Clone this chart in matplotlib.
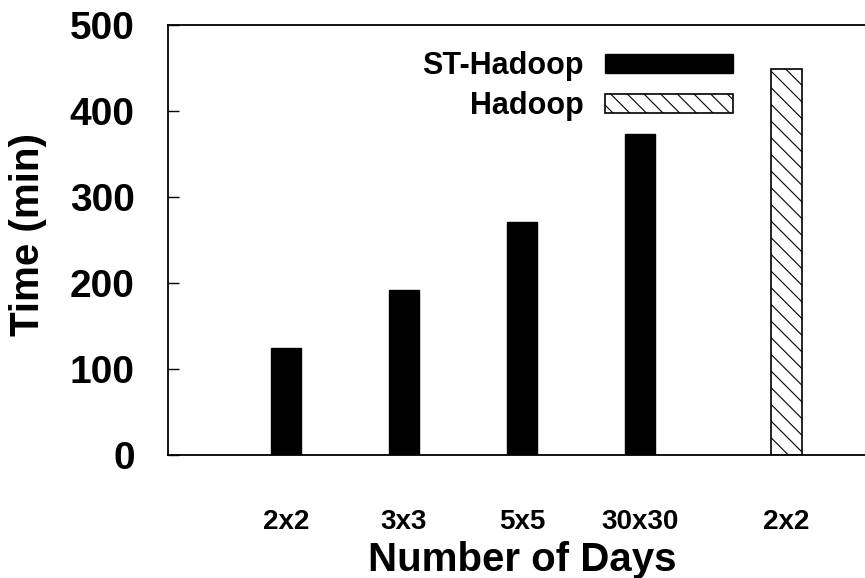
import matplotlib
matplotlib.use("Agg")
import matplotlib.pyplot as plt

plt.rcParams["font.family"] = ["Liberation Sans", "DejaVu Sans"]
plt.rcParams["font.weight"] = "bold"
plt.rcParams["hatch.linewidth"] = 0.8

# data
st_labels = ["2x2", "3x3", "5x5", "30x30"]
st_times = [124, 192, 271, 373]
hadoop_labels = ["2x2"]
hadoop_times = [449]

st_pos = [1, 2, 3, 4]
hadoop_pos = [5.24]
BAR_W = 0.26


def main():
    fig = plt.figure(figsize=(8.65, 5.78), dpi=100)
    ax = fig.add_axes([168 / 865, 123 / 578, 697 / 865, 430 / 578])

    ax.bar(st_pos, st_times, width=BAR_W, color="black", edgecolor="black",
           linewidth=1.0, label="ST-Hadoop")
    ax.bar(hadoop_pos, hadoop_times, width=BAR_W, color="white",
           edgecolor="black", hatch="\\\\", linewidth=1.2, label="Hadoop")

    ax.set_xlim(0, 697 / 118)
    ax.set_ylim(0, 500)
    ax.set_yticks([0, 100, 200, 300, 400, 500])
    ax.tick_params(axis="y", direction="in", length=8, width=1.0, pad=24,
                   labelsize=28)
    ax.set_xticks(st_pos + hadoop_pos)
    ax.set_xticklabels(st_labels + hadoop_labels)
    ax.tick_params(axis="x", length=0, pad=39, labelsize=20)
    for lab in ax.get_xticklabels() + ax.get_yticklabels():
        lab.set_fontweight("bold")

    ax.spines["right"].set_visible(False)
    for s in ["left", "top", "bottom"]:
        ax.spines[s].set_linewidth(1.3)

    # axis titles placed where the reference has them
    ax.set_xlabel("Number of Days", fontsize=29, fontweight="bold")
    ax.xaxis.set_label_coords((522 - 168) / 697, -0.20)
    ax.set_ylabel("Time (min)", fontsize=29, fontweight="bold")
    ax.yaxis.set_label_coords(-121 / 697, 0.512)

    leg = ax.legend(loc="upper right", bbox_to_anchor=((733 - 168) / 697, 0.94),
                    frameon=False, markerfirst=False, fontsize=22,
                    handlelength=4.2, handleheight=0.58, handletextpad=0.7,
                    labelspacing=0.35, borderpad=0, borderaxespad=0)
    for t in leg.get_texts():
        t.set_fontweight("bold")

    fig.savefig("out.png", dpi=100)
    plt.close(fig)


if __name__ == "__main__":
    main()
